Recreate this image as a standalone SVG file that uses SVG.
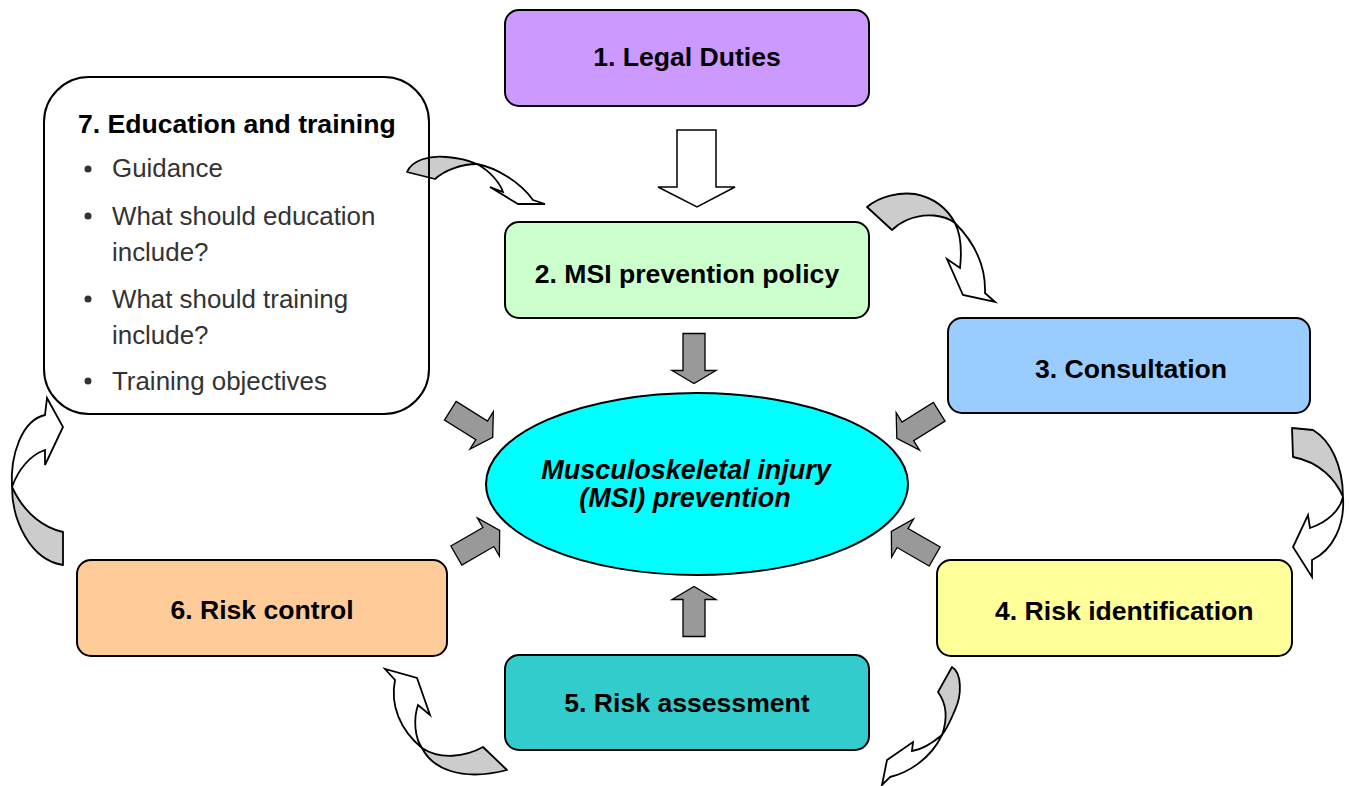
<svg xmlns="http://www.w3.org/2000/svg" width="1349" height="786" viewBox="0 0 1349 786">
  <style>
    .box { stroke: #000; stroke-width: 2; }
    .lbl { font-family: "Liberation Sans", Arial, sans-serif; font-weight: bold; font-size: 26.6px; fill: #000; }
    .item { font-family: "Liberation Sans", Arial, sans-serif; font-size: 25.9px; fill: #333; }
    .core { font-family: "Liberation Sans", Arial, sans-serif; font-weight: bold; font-style: italic; font-size: 27px; fill: #000; text-anchor: middle; }
    .feed { fill: #999; stroke: #000; stroke-width: 1.3; }
    .back { fill: #ccc; stroke: #000; stroke-width: 1.8; stroke-linejoin: round; }
    .front { fill: #fff; stroke: #000; stroke-width: 1.8; stroke-linejoin: miter; }
  </style>
  <defs>
    <!-- block arrow pointing along +x, centred on the origin -->
    <path id="blk" d="M-25,-11 H12 V-22 L25,0 L12,22 V11 H-25 Z"/>
  </defs>

  <rect width="1349" height="786" fill="#fff"/>

  <g id="connectors">
    <!-- legal duties feed into policy -->
    <path d="M677,130 H716 V187 H735 L697,207 L658,187 H677 Z" fill="#fff" stroke="#000" stroke-width="1.5"/>

    <!-- arrows into the centre -->
    <use href="#blk" class="feed" transform="translate(694,358.5) rotate(90)"/>
    <use href="#blk" class="feed" transform="translate(694,611.5) rotate(-90)"/>
    <use href="#blk" class="feed" transform="translate(471.5,424) rotate(32)"/>
    <use href="#blk" class="feed" transform="translate(918,425) rotate(148)"/>
    <use href="#blk" class="feed" transform="translate(478,543) rotate(-30)"/>
    <use href="#blk" class="feed" transform="translate(913,544) rotate(-150)"/>

    <!-- curved cycle arrows: shaded back face + white front with head -->
    <g id="c7to2">
      <path class="back" d="M407,172 C412,160 430,155 447,157 C460,158 470,161 477,164 C462,164 445,170 435,179 Z"/>
      <path class="front" d="M477,164 C497,168 520,182 533,200 L545,204 L518,204 L490,187 L503,192 C500,183 490,171 477,164 Z"/>
    </g>
    <g id="c2to3">
      <path class="back" d="M867,207 C880,196 900,192 915,194 C935,198 948,210 955,223 C945,215 925,212 907,220 C900,223 895,227 892,230 Z"/>
      <path class="front" d="M955,223 C972,240 986,262 985,293 L995,302 L963,295 L947,259 L960,268 C962,250 961,235 955,223 Z"/>
    </g>
    <g id="c3to4">
      <path class="back" d="M1292,428 L1313,430 C1330,440 1343,465 1343,497 C1336,480 1320,462 1293,457 Z"/>
      <path class="front" d="M1343,497 C1345,525 1333,550 1312,560 L1312,577 L1293,547 L1308,515 L1310,528 C1328,522 1340,510 1343,497 Z"/>
    </g>
    <g id="c4to5">
      <path class="back" d="M952,667 C962,673 962,695 955,710 C950,722 946,730 942,735 C948,718 946,703 938,692 Z"/>
      <path class="front" d="M942,735 C930,745 920,750 912,751 L913,742 L887,760 L882,785 L890,777 C907,773 930,760 942,735 Z"/>
    </g>
    <g id="c5to6">
      <path class="back" d="M483,747 C465,757 440,760 422,748 C432,768 460,782 507,770 Z"/>
      <path class="front" d="M422,748 C400,730 390,705 395,680 L385,669 L417,678 L430,715 L418,705 C413,720 415,738 422,748 Z"/>
    </g>
    <g id="c6to7">
      <path class="back" d="M63,532 C45,528 25,515 12,487 C12,520 30,560 63,565 Z"/>
      <path class="front" d="M12,487 C10,455 22,420 45,415 L47,398 L63,427 L45,465 L45,450 C30,455 18,470 12,487 Z"/>
    </g>
  </g>

  <g id="n1">
    <rect class="box" x="505" y="10" width="364" height="96" rx="14" fill="#cc99ff"/>
    <text class="lbl" x="687" y="66" text-anchor="middle">1. Legal Duties</text>
  </g>
  <g id="n2">
    <rect class="box" x="505" y="222" width="364" height="96" rx="14" fill="#ccffcc"/>
    <text class="lbl" x="687" y="283" text-anchor="middle">2. MSI prevention policy</text>
  </g>
  <g id="n3">
    <rect class="box" x="948" y="318" width="362" height="95" rx="14" fill="#99ccff"/>
    <text class="lbl" x="1131" y="378" text-anchor="middle">3. Consultation</text>
  </g>
  <g id="n4">
    <rect class="box" x="937" y="560" width="355" height="96" rx="14" fill="#ffff99"/>
    <text class="lbl" x="995" y="620">4. Risk identification</text>
  </g>
  <g id="n5">
    <rect class="box" x="505" y="655" width="364" height="95" rx="14" fill="#33cccc"/>
    <text class="lbl" x="687" y="712" text-anchor="middle">5. Risk assessment</text>
  </g>
  <g id="n6">
    <rect class="box" x="77" y="560" width="370" height="96" rx="14" fill="#ffcc99"/>
    <text class="lbl" x="262" y="619" text-anchor="middle">6. Risk control</text>
  </g>
  <g id="n7">
    <rect class="box" x="44" y="77" width="385" height="337" rx="45" fill="none"/>
    <text class="lbl" x="78" y="133">7. Education and training</text>
    <circle cx="88" cy="169" r="3.5" fill="#333"/>
    <text class="item" x="112" y="177">Guidance</text>
    <circle cx="88" cy="216" r="3.5" fill="#333"/>
    <text class="item" x="112" y="225">What should education</text>
    <text class="item" x="112" y="261">include?</text>
    <circle cx="88" cy="299" r="3.5" fill="#333"/>
    <text class="item" x="112" y="308">What should training</text>
    <text class="item" x="112" y="344">include?</text>
    <circle cx="88" cy="381" r="3.5" fill="#333"/>
    <text class="item" x="112" y="390">Training objectives</text>
  </g>
  <g id="centre">
    <ellipse class="box" cx="697" cy="484" rx="211" ry="91" fill="#00ffff"/>
    <text class="core" x="686" y="479">Musculoskeletal injury</text>
    <text class="core" x="685" y="507">(MSI) prevention</text>
  </g>
</svg>
